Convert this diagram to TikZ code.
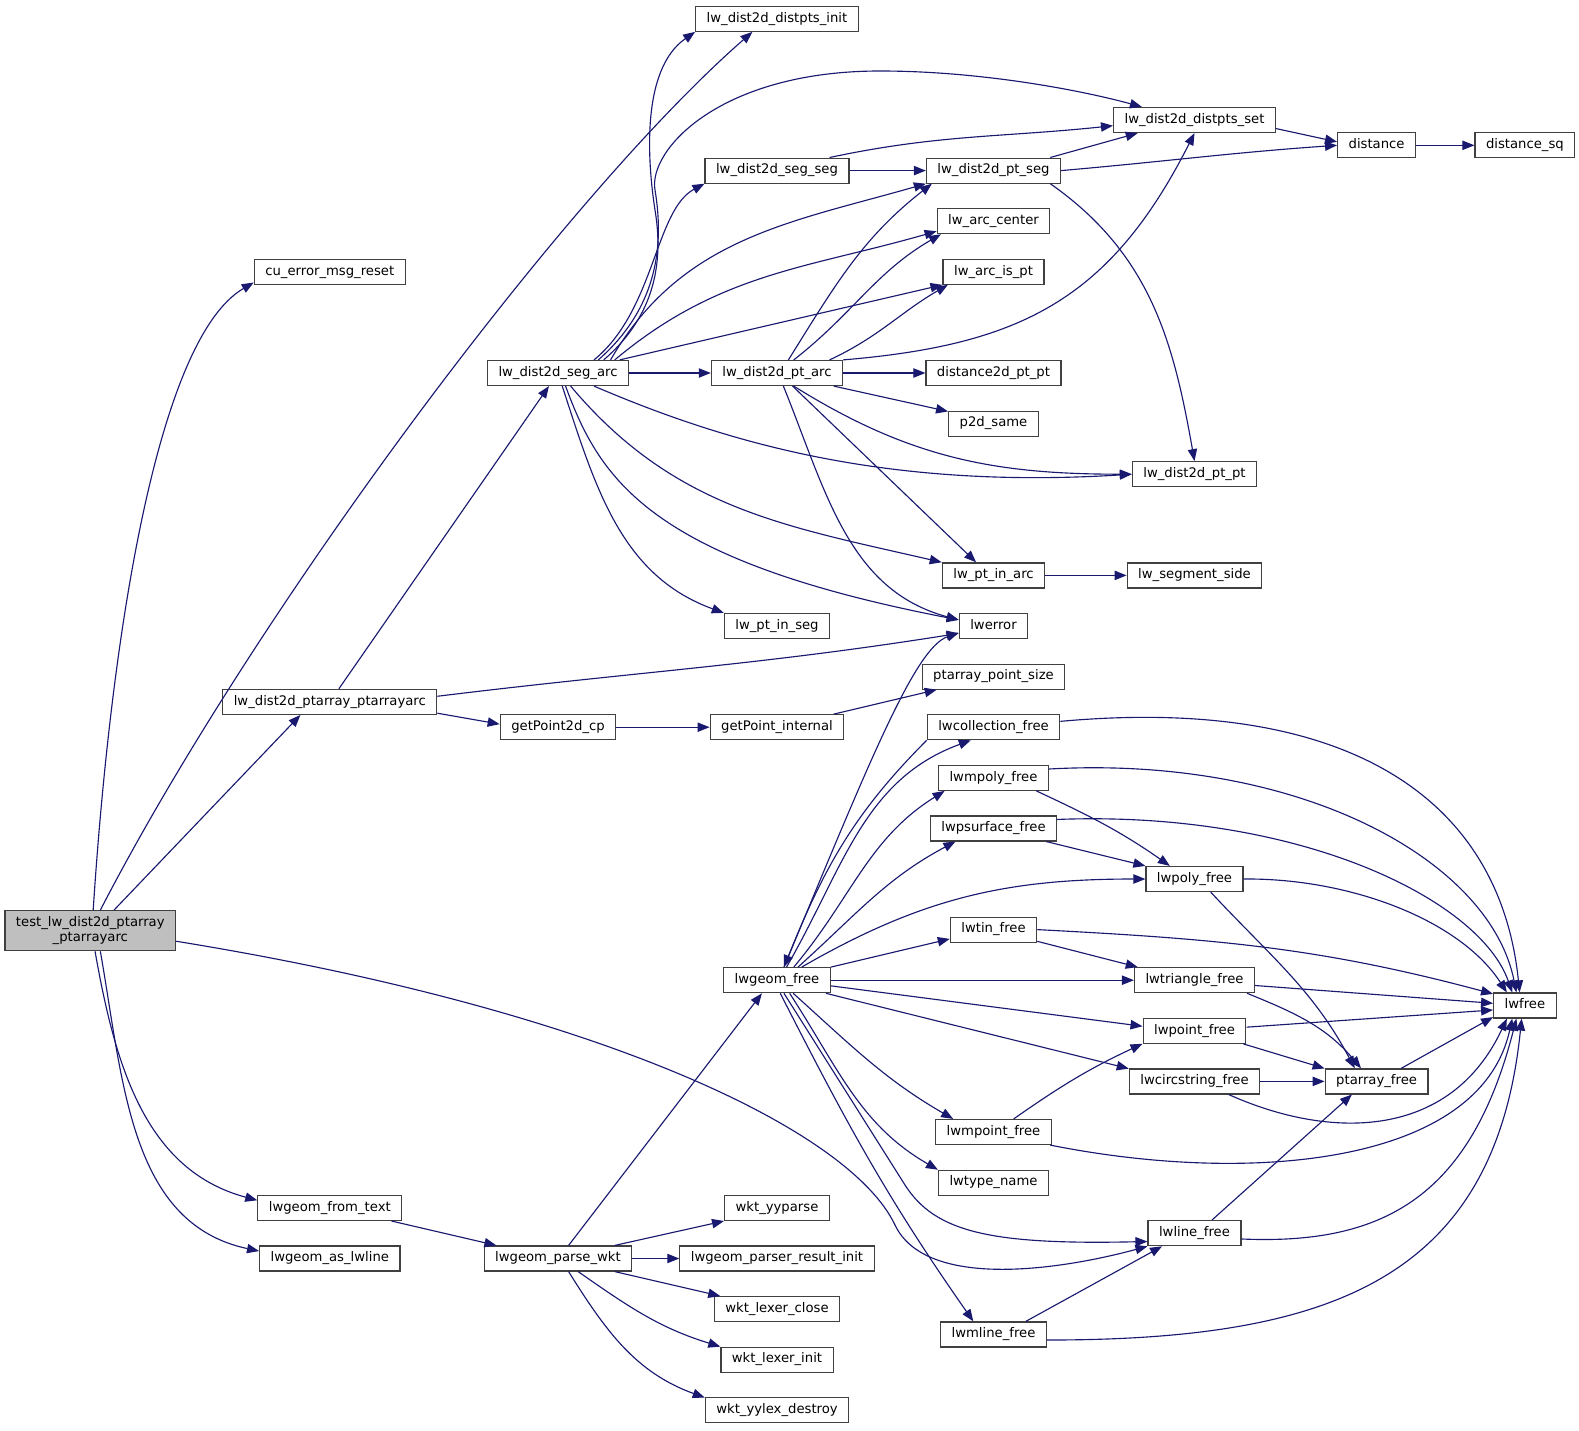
\documentclass[tikz,border=0pt]{standalone}
\usepackage{fontspec}
\setmainfont{DejaVu Sans}
\usetikzlibrary{arrows.meta}
\definecolor{edgeblue}{HTML}{191970}
\definecolor{rootgray}{HTML}{BFBFBF}
\definecolor{boxline}{HTML}{404040}
\begin{document}
\begin{tikzpicture}[x=0.75pt,y=0.75pt,
  box/.style={draw=boxline,line width=0.9pt,fill=white,inner xsep=8.25pt,inner ysep=0pt,font=\fontsize{9.9}{11.25}\selectfont},
  fn/.style={box,minimum height=18.75pt,text height=7.2pt,text depth=2.3pt},
  root/.style={box,fill=rootgray,minimum height=30pt,align=center},
  call/.style={draw=edgeblue,line width=0.85pt,-{Triangle[length=9pt,width=7pt]}}]
\path[use as bounding box] (0,0) rectangle (1579,-1431);

\node[root] (test) at (90.3,-930.7) {test\_lw\_dist2d\_ptarray\\\_ptarrayarc};

\node[fn] (cuerr) at (329.8,-271.8) {cu\_error\_msg\_reset};
\node[fn] (ptarrayarc) at (329.8,-701.9) {lw\_dist2d\_ptarray\_ptarrayarc};
\node[fn] (fromtext) at (329.8,-1207.9) {lwgeom\_from\_text};
\node[fn] (aslwline) at (329.8,-1258.5) {lwgeom\_as\_lwline};

\node[fn] (segarc) at (558,-373) {lw\_dist2d\_seg\_arc};
\node[fn] (getpt2d) at (558,-727.2) {getPoint2d\_cp};
\node[fn] (parsewkt) at (558,-1258.5) {lwgeom\_parse\_wkt};

\node[fn] (distinit) at (777,-18.8) {lw\_dist2d\_distpts\_init};
\node[fn] (segseg) at (777,-170.6) {lw\_dist2d\_seg\_seg};
\node[fn] (ptarc) at (777,-373) {lw\_dist2d\_pt\_arc};
\node[fn] (ptinseg) at (777,-626) {lw\_pt\_in\_seg};
\node[fn] (getptint) at (777,-727.2) {getPoint\_internal};
\node[fn] (geomfree) at (777,-980.2) {lwgeom\_free};
\node[fn] (yyparse) at (777,-1207.9) {wkt\_yyparse};
\node[fn] (resinit) at (777,-1258.5) {lwgeom\_parser\_result\_init};
\node[fn] (lexclose) at (777,-1309.1) {wkt\_lexer\_close};
\node[fn] (lexinit) at (777,-1359.7) {wkt\_lexer\_init};
\node[fn] (yylexdestroy) at (777,-1410.3) {wkt\_yylex\_destroy};

\node[fn] (ptseg) at (993.5,-170.6) {lw\_dist2d\_pt\_seg};
\node[fn] (arccenter) at (993.5,-221.2) {lw\_arc\_center};
\node[fn] (arcispt) at (993.5,-271.8) {lw\_arc\_is\_pt};
\node[fn] (dist2dptpt) at (993.5,-373) {distance2d\_pt\_pt};
\node[fn] (p2dsame) at (993.5,-423.6) {p2d\_same};
\node[fn] (ptinarc) at (993.5,-575.4) {lw\_pt\_in\_arc};
\node[fn] (lwerror) at (993.5,-626) {lwerror};
\node[fn] (ptsize) at (993.5,-676.6) {ptarray\_point\_size};
\node[fn] (collfree) at (993.5,-727.2) {lwcollection\_free};
\node[fn] (mpolyfree) at (993.5,-777.8) {lwmpoly\_free};
\node[fn] (psurffree) at (993.5,-828.4) {lwpsurface\_free};
\node[fn] (tinfree) at (993.5,-929.6) {lwtin\_free};
\node[fn] (mpointfree) at (993.5,-1132) {lwmpoint\_free};
\node[fn] (typename) at (993.5,-1182.6) {lwtype\_name};
\node[fn] (mlinefree) at (993.5,-1334.4) {lwmline\_free};

\node[fn] (distset) at (1194.5,-120) {lw\_dist2d\_distpts\_set};
\node[fn] (ptpt) at (1194.5,-474.2) {lw\_dist2d\_pt\_pt};
\node[fn] (segside) at (1194.5,-575.4) {lw\_segment\_side};
\node[fn] (polyfree) at (1194.5,-879) {lwpoly\_free};
\node[fn] (trifree) at (1194.5,-980.2) {lwtriangle\_free};
\node[fn] (pointfree) at (1194.5,-1030.8) {lwpoint\_free};
\node[fn] (circfree) at (1194.5,-1081.4) {lwcircstring\_free};
\node[fn] (linefree) at (1194.5,-1233.2) {lwline\_free};

\node[fn] (distance) at (1376.6,-145.3) {distance};
\node[fn] (ptafree) at (1376.6,-1081.4) {ptarray\_free};
\node[fn] (distsq) at (1524.9,-145.3) {distance\_sq};
\node[fn] (lwfree) at (1524.9,-1005.5) {lwfree};

\draw[call] (test.82) .. controls (110,-650) and (155,-340) .. (cuerr.188);
\draw[call] (test.64) .. controls (250,-620) and (560,-200) .. (distinit.208);
\draw[call] (test.41) -- (ptarrayarc.204);
\draw[call] (test.-77) to[out=-80,in=165] (fromtext.174);
\draw[call] (test.-64) to[out=-80,in=168] (aslwline.174);
\draw[call] (test.-7) .. controls (600,-1010) and (850,-1130) .. (895,-1225) .. controls (926,-1290) and (1060,-1270) .. (linefree.south west);

\draw[call] (ptarrayarc) -- (segarc);
\draw[call] (ptarrayarc.-6) -- (getpt2d.177);
\draw[call] (ptarrayarc.3) to[out=7,in=189] (lwerror.192);

\draw[call] (segarc.16) .. controls (650,-320) and (665,-270) .. (655,-210) .. controls (648,-165) and (640,-70) .. (distinit.south west);
\draw[call] (segarc.18) .. controls (655,-310) and (665,-250) .. (655,-190) .. controls (648,-150) and (720,-71) .. (880,-71) .. controls (980,-71) and (1080,-90) .. (distset.166);
\draw[call] (segarc.20) .. controls (655,-310) and (655,-210) .. (segseg.south west);
\draw[call] (segarc.14) to[out=60,in=196] (ptseg.south west);
\draw[call] (segarc.13) to[out=40,in=196] (arccenter.190);
\draw[call] (segarc.12) -- (arcispt.south west);
\draw[call] (segarc) -- (ptarc);
\draw[call] (segarc.-20) .. controls (720,-440) and (880,-490) .. (ptpt.west);
\draw[call] (segarc.-46) to[out=-50,in=167] (ptinarc.north west);
\draw[call] (segarc.-60) .. controls (600,-480) and (650,-560) .. (lwerror.170);
\draw[call] (segarc.-72) to[out=-72,in=160] (ptinseg.north west);

\draw[call] (segseg.14) to[out=12,in=186] (distset.184);
\draw[call] (segseg) -- (ptseg);
\draw[call] (ptseg.13) -- (distset.193);
\draw[call] (ptseg.east) to[out=5,in=184] (distance.west);
\draw[call] (ptseg.-13) to[out=-35,in=100] (ptpt.north);
\draw[call] (distset.-6) -- (distance.175);
\draw[call] (distance) -- (distsq);

\draw[call] (ptarc.49) to[out=58,in=218] (ptseg.192);
\draw[call] (ptarc.38) to[out=38,in=210] (arccenter.194);
\draw[call] (ptarc.14) to[out=25,in=210] (arcispt.196);
\draw[call] (ptarc.north east) .. controls (1020,-345) and (1110,-300) .. (distset.south);
\draw[call] (ptarc) -- (dist2dptpt);
\draw[call] (ptarc.-13) -- (p2dsame.165);
\draw[call] (ptarc.-38) to[out=-32,in=180] (ptpt.west);
\draw[call] (ptarc.-40) -- (ptinarc.143);
\draw[call] (ptarc.-64) to[out=-68,in=165] (lwerror.170);
\draw[call] (ptinarc) -- (segside);

\draw[call] (getpt2d) -- (getptint);
\draw[call] (getptint.13) -- (ptsize.193);

\draw[call] (fromtext.-12) -- (parsewkt.168);
\draw[call] (parsewkt.51) -- (geomfree.221);
\draw[call] (parsewkt.13) -- (yyparse.south west);
\draw[call] (parsewkt) -- (resinit);
\draw[call] (parsewkt.-13) -- (lexclose.167);
\draw[call] (parsewkt.-33) to[out=-35,in=163] (lexinit.north west);
\draw[call] (parsewkt.-51) to[out=-58,in=160] (yylexdestroy.170);

\draw[call] (geomfree.62) .. controls (870,-760) and (915,-648) .. (lwerror.191);
\draw[call] (geomfree.54) to[out=60,in=200] (collfree.210);
\draw[call] (geomfree.38) to[out=50,in=212] (mpolyfree.195);
\draw[call] (geomfree.32) to[out=42,in=208] (psurffree.199);
\draw[call] (geomfree.28) to[out=30,in=180] (polyfree.west);
\draw[call] (geomfree.north east) -- (tinfree.192);
\draw[call] (geomfree) -- (trifree);
\draw[call] (geomfree.-6) -- (pointfree.175);
\draw[call] (geomfree.-15) -- (circfree.169);
\draw[call] (geomfree.-39) to[out=-42,in=150] (mpointfree.162);
\draw[call] (geomfree.-46) to[out=-57,in=150] (typename.167);
\draw[call] (geomfree.-62) -- (905,-1185) .. controls (935,-1232) and (990,-1245) .. (linefree.190);
\draw[call] (geomfree.-76) to[out=-63,in=125] (mlinefree.147);
\draw[call] (collfree.south west) to[out=225,in=68] (geomfree.62);

\draw[call] (collfree.5) .. controls (1350,-695) and (1500,-800) .. (lwfree.112);
\draw[call] (mpolyfree.9) .. controls (1300,-755) and (1490,-860) .. (lwfree.123);
\draw[call] (mpolyfree.-17) to[out=-25,in=145] (polyfree.152);
\draw[call] (psurffree.8) .. controls (1300,-810) and (1480,-900) .. (lwfree.134);
\draw[call] (psurffree.-14) -- (polyfree.north west);
\draw[call] (polyfree.east) .. controls (1350,-878) and (1460,-920) .. (lwfree.144);
\draw[call] (polyfree.-39) to[out=-47,in=118] (ptafree.149);
\draw[call] (tinfree.east) to[out=-3,in=165] (lwfree.160);
\draw[call] (tinfree.-15) -- (trifree.167);
\draw[call] (trifree.-5) -- (lwfree.176);
\draw[call] (trifree.-14) to[out=-22,in=130] (ptafree.140);
\draw[call] (pointfree.4) -- (lwfree.188);
\draw[call] (pointfree.-15) -- (ptafree.166);
\draw[call] (circfree) -- (ptafree);
\draw[call] (circfree.-21) .. controls (1330,-1140) and (1450,-1140) .. (lwfree.216);
\draw[call] (ptafree.28) -- (lwfree.200);
\draw[call] (mpointfree.33) to[out=35,in=205] (pointfree.194);
\draw[call] (mpointfree.-13) .. controls (1250,-1185) and (1480,-1165) .. (lwfree.226);
\draw[call] (linefree.37) -- (ptafree.208);
\draw[call] (linefree.-7) .. controls (1380,-1245) and (1470,-1200) .. (lwfree.237);
\draw[call] (mlinefree.22) -- (linefree.202);
\draw[call] (mlinefree.-6) .. controls (1330,-1340) and (1495,-1280) .. (lwfree.256);
\end{tikzpicture}
\end{document}
